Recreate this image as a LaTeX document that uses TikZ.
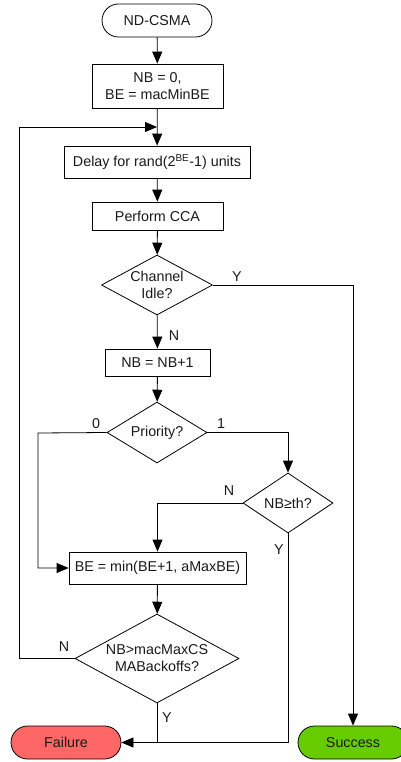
\documentclass[tikz,border=0pt]{standalone}
\usepackage{fontspec}
\setmainfont{Liberation Sans}
\usetikzlibrary{shapes.geometric,shapes.misc,arrows.meta}
\definecolor{failred}{HTML}{FF6666}
\definecolor{succgreen}{HTML}{66CC00}
\tikzset{
  every node/.style={font=\fontsize{14.3}{17}\selectfont, text=black!90},
  box/.style={draw, line width=0.8pt, rectangle, inner sep=0pt, align=center},
  term/.style={draw, line width=0.8pt, rounded rectangle, inner sep=0pt, align=center, minimum width=110pt, minimum height=33pt},
  dia/.style={draw, line width=0.8pt, diamond, inner sep=0pt},
  dtext/.style={align=center, inner sep=0pt},
  lbl/.style={inner sep=0pt},
  arr/.style={line width=0.8pt, -{Triangle[length=12pt,width=10pt]}},
  ln/.style={line width=0.8pt},
}
\begin{document}
\begin{tikzpicture}[x=1pt,y=-1pt]
\useasboundingbox (0,0) rectangle (401,762);
\node[term] (start) at (157,20.5) {ND-CSMA};
\node[box, minimum width=131pt, minimum height=44pt] (init) at (157.5,86) {NB = 0,\\BE = macMinBE};
\node[box, minimum width=186pt, minimum height=32pt] (delay) at (157,162) {Delay for rand(2\textsuperscript{BE}-1) units};
\node[box, minimum width=131pt, minimum height=28pt] (cca) at (157.5,216) {Perform CCA};
\node[dia, minimum width=111pt, minimum height=60pt] (cidle) at (157,285) {};
\node[dtext] (cidlet) at (cidle) {Channel\\Idle?};
\node[box, minimum width=105pt, minimum height=27pt] (inc) at (157.5,362.5) {NB = NB+1};
\node[dia, minimum width=100pt, minimum height=61pt] (prio) at (157,432.5) {};
\node[dtext] (priot) at (prio) {Priority?};
\node[dia, minimum width=90pt, minimum height=60pt] (nbth) at (288,503) {};
\node[dtext] (nbtht) at (nbth) {NB≥th?};
\node[box, minimum width=177pt, minimum height=32pt] (be) at (157.5,568) {BE = min(BE+1, aMaxBE)};
\node[dia, minimum width=164pt, minimum height=89pt] (dec) at (157,658.5) {};
\node[dtext] (dect) at (dec) {NB>macMaxCS\\MABackoffs?};
\node[term, fill=failred] (fail) at (66,742.5) {Failure};
\node[term, fill=succgreen] (succ) at (353,742.5) {Success};
\coordinate (loopin) at (157,127);
\coordinate (loopc) at (19,127);
\coordinate (leftc) at (38,433);

\draw[arr] (start) -- (init);
\draw[arr] (init) -- (delay);
\draw[arr] (delay) -- (cca);
\draw[arr] (cca) -- (cidle);
\draw[arr] (cidle) -- (inc);
\draw[arr] (inc) -- (prio);
\draw[arr] (be) -- (dec);
\draw[arr] (cidle.east) -| (succ.north);
\draw[arr] (prio.west) -- (leftc) |- (be.west);
\draw[arr] (prio.east) -| (nbth.north);
\draw[arr] (nbth.west) -| (be.north);
\draw[arr] (nbth.south) |- (fail.east);
\draw[ln] (dec.south) -- (dec.south |- fail.east);
\draw[arr] (dec.west) -| (loopc) -- (loopin);

\node[lbl] (ly1) at (237,277) {Y};
\node[lbl] (ln1) at (174,336) {N};
\node[lbl] (l0) at (96,424) {0};
\node[lbl] (l1) at (221,424) {1};
\node[lbl] (ln2) at (229,491) {N};
\node[lbl] (ly2) at (279,550) {Y};
\node[lbl] (ln3) at (64,647) {N};
\node[lbl] (ly3) at (167,718) {Y};
\end{tikzpicture}
\end{document}
